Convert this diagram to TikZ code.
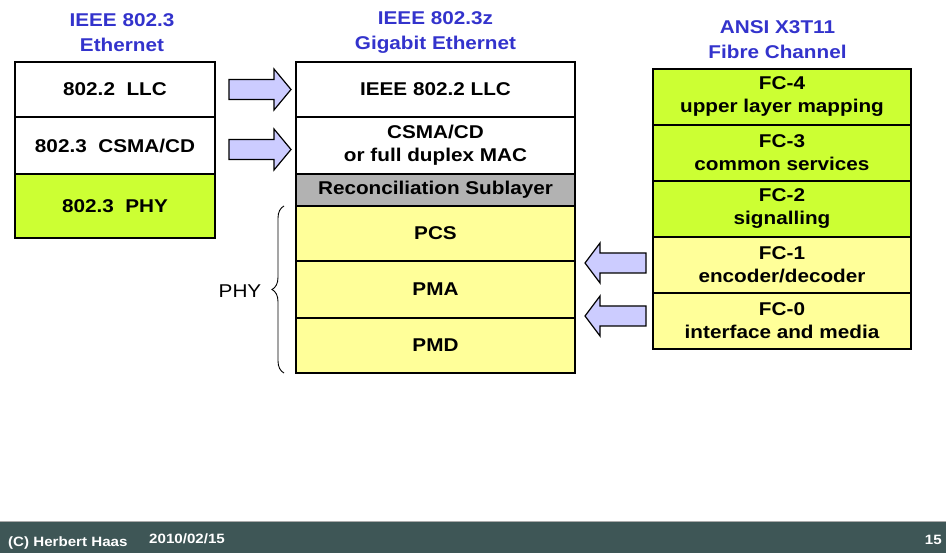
\documentclass[tikz,border=0pt]{standalone}
\usepackage{fontspec}
\setmainfont{Liberation Sans}[FakeStretch=1.12]
\usetikzlibrary{decorations.pathreplacing}
\definecolor{ttl}{RGB}{51,51,204}
\definecolor{lime}{RGB}{204,255,51}
\definecolor{pale}{RGB}{255,255,153}
\definecolor{rsgray}{RGB}{178,178,178}
\definecolor{arrfill}{RGB}{204,204,255}
\definecolor{foot}{RGB}{62,86,86}
\definecolor{footline}{RGB}{170,170,170}
\begin{document}
\begin{tikzpicture}[x=1pt,y=-1pt,
  layerbox/.style={draw=black, line width=1.5pt, inner sep=0pt, outer sep=0pt, align=center,
    font=\fontsize{18.5}{23}\selectfont\bfseries},
  titletext/.style={text=ttl, align=center, inner sep=0pt, font=\fontsize{18.5}{25}\selectfont\bfseries},
  blockarrow/.style={draw=black, line width=1.2pt, fill=arrfill, line join=miter},
  foottext/.style={text=white, inner sep=0pt, font=\fontsize{13.5}{15}\selectfont\bfseries}]
\useasboundingbox (0,0) rectangle (946,553);

% titles
\node[titletext] (t1) at (122,32.5) {IEEE 802.3\\Ethernet};
\node[titletext] (t2) at (435.5,33) {IEEE 802.3z\\Gigabit Ethernet};
\node[titletext] (t3) at (777.5,40) {ANSI X3T11\\Fibre Channel};

% left stack
\node[layerbox, fill=white, minimum width=200, minimum height=55] (llc) at (115,89.5) {802.2\ \ LLC};
\node[layerbox, fill=white, minimum width=200, minimum height=57] (csma) at (115,145.5) {802.3\ \ CSMA/CD};
\node[layerbox, fill=lime, minimum width=200, minimum height=64] (phy) at (115,206) {802.3\ \ PHY};

% middle stack
\node[layerbox, fill=white, minimum width=279, minimum height=55] (llc2) at (435.5,89.5) {IEEE 802.2 LLC};
\node[layerbox, fill=white, minimum width=279, minimum height=57] (mac) at (435.5,145.5) {CSMA/CD\\or full duplex MAC};
\node[layerbox, fill=rsgray, minimum width=279, minimum height=32] (rs) at (435.5,190) {Reconciliation Sublayer};
\node[layerbox, fill=pale, minimum width=279, minimum height=55] (pcs) at (435.5,233.5) {PCS};
\node[layerbox, fill=pale, minimum width=279, minimum height=57] (pma) at (435.5,289.5) {PMA};
\node[layerbox, fill=pale, minimum width=279, minimum height=55] (pmd) at (435.5,345.5) {PMD};

% right stack
\node[layerbox, fill=lime, minimum width=258, minimum height=56] (fc4) at (782,97) {FC-4\\upper layer mapping};
\node[layerbox, fill=lime, minimum width=258, minimum height=56] (fc3) at (782,153) {FC-3\\common services};
\node[layerbox, fill=lime, minimum width=258, minimum height=56] (fc2) at (782,209) {FC-2\\signalling};
\node[layerbox, fill=pale, minimum width=258, minimum height=56] (fc1) at (782,265) {FC-1\\encoder/decoder};
\node[layerbox, fill=pale, minimum width=258, minimum height=56] (fc0) at (782,321) {FC-0\\interface and media};

% block arrows
\draw[blockarrow] (229,79.5) -- (274,79.5) -- (274,69) -- (291,89.5) -- (274,110) -- (274,99.5) -- (229,99.5) -- cycle;
\draw[blockarrow] (229,139.5) -- (274,139.5) -- (274,129) -- (291,149.5) -- (274,170) -- (274,159.5) -- (229,159.5) -- cycle;
\draw[blockarrow] (646,253) -- (600,253) -- (600,243) -- (585,263) -- (600,283) -- (600,273) -- (646,273) -- cycle;
\draw[blockarrow] (646,306) -- (600,306) -- (600,296) -- (585,316) -- (600,336) -- (600,326) -- (646,326) -- cycle;

% brace
\coordinate (bb) at (284,373);
\coordinate (bt) at (284,206);
\draw[decorate, decoration={brace, amplitude=12pt}, line width=0.9pt] (bb) -- (bt);
\node[inner sep=0pt, font=\fontsize{18.5}{23}\selectfont] (phylbl) at (240,291) {PHY};

% footer
\fill[foot] (0,522) rectangle (946,553);
\draw[footline, line width=1pt] (0,521.5) -- (946,521.5);
\node[foottext, anchor=base west] (author) at (8,546) {(C) Herbert Haas};
\node[foottext, anchor=base west] (date) at (149,543) {2010/02/15};
\node[foottext, anchor=base east] (page) at (942,544) {15};
\end{tikzpicture}
\end{document}
